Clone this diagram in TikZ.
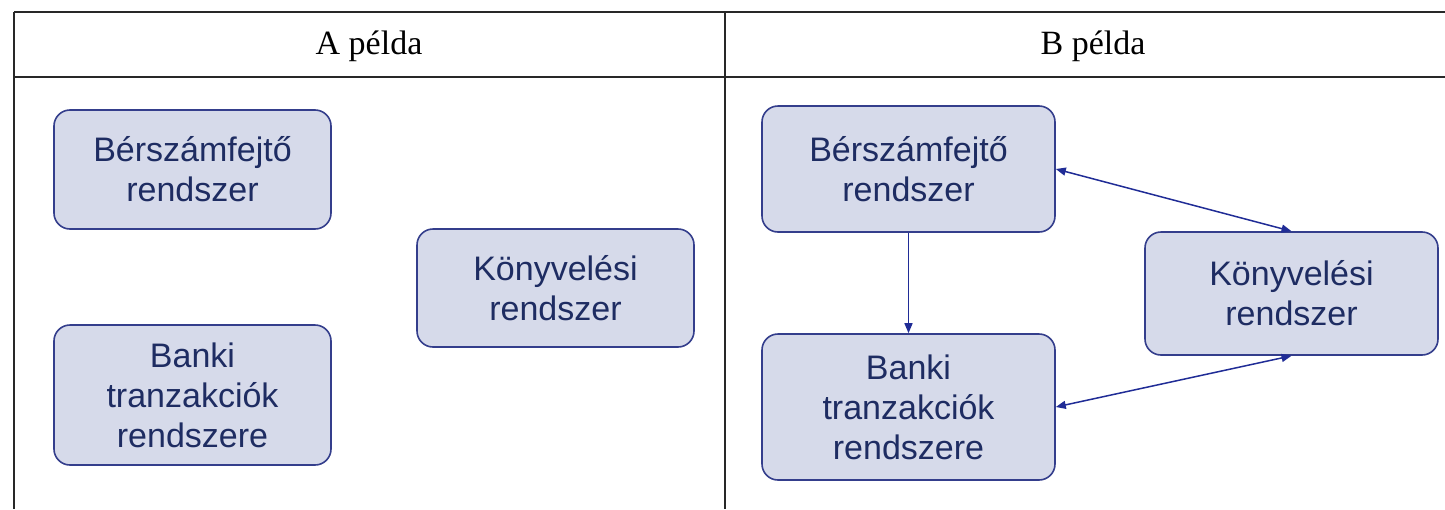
\documentclass[tikz,border=0pt]{standalone}
\usepackage{fontspec}
\setmainfont{Liberation Sans}
\newfontfamily\headserif{Liberation Serif}
\usetikzlibrary{arrows.meta, positioning}
\definecolor{boxfill}{RGB}{214,218,234}
\definecolor{boxline}{RGB}{52,62,140}
\definecolor{boxtext}{RGB}{30,44,98}
\definecolor{arrowblue}{RGB}{32,44,150}
\definecolor{tablegray}{RGB}{40,40,40}

\begin{document}
\begin{tikzpicture}[
    x=1pt, y=-1pt,
    sysbox/.style={
        rectangle,
        rounded corners=16pt,
        draw=boxline,
        line width=1.6pt,
        fill=boxfill,
        text=boxtext,
        align=center,
        font=\fontsize{34}{40}\selectfont,
        inner sep=0pt
    },
    smallbox/.style={sysbox, minimum width=277pt},
    widebox/.style={sysbox, minimum width=293pt},
    header/.style={font=\headserif\fontsize{34}{40}\selectfont, inner sep=0pt},
    rule/.style={draw=tablegray, line width=1.8pt},
    arrow/.style={-{Triangle[length=10pt, width=8pt]}, line width=1.5pt, draw=arrowblue},
    twoway/.style={arrow, {Triangle[length=10pt, width=8pt]}-{Triangle[length=10pt, width=8pt]}}
]
\useasboundingbox (0,0) rectangle (1445,509);

% table
\coordinate (tl) at (14,12);
\coordinate (tm) at (725,12);
\coordinate (tr) at (1445,12);
\coordinate (hl) at (14,77);
\coordinate (hr) at (1445,77);
\coordinate (bl) at (14,509);
\coordinate (bm) at (725,509);
\draw[rule] (tl) -- (tr);
\draw[rule] (hl) -- (hr);
\draw[rule] (tl) -- (bl);
\draw[rule] (tm) -- (bm);

\node[header] (headA) at (369,46) {A példa};
\node[header] (headB) at (1093,46) {B példa};

% A példa
\node[smallbox, minimum height=119pt] (berA) at (192.5,169.5) {Bérszámfejtő\\rendszer};
\node[smallbox, minimum height=140pt] (bankA) at (192.5,395) {Banki\\tranzakciók\\rendszere};
\node[smallbox, minimum height=118pt] (konyvA) at (555.5,288) {Könyvelési\\rendszer};

% B példa
\node[widebox, minimum height=126pt] (berB) at (908.5,169) {Bérszámfejtő\\rendszer};
\node[widebox, minimum height=146pt] (bankB) at (908.5,407) {Banki\\tranzakciók\\rendszere};
\node[widebox, minimum height=123pt] (konyvB) at (1291.5,293.5) {Könyvelési\\rendszer};

\draw[arrow] (berB) -- (bankB);
\draw[twoway] (berB.east) -- (konyvB.north);
\draw[twoway] (bankB.east) -- (konyvB.south);

\end{tikzpicture}
\end{document}
